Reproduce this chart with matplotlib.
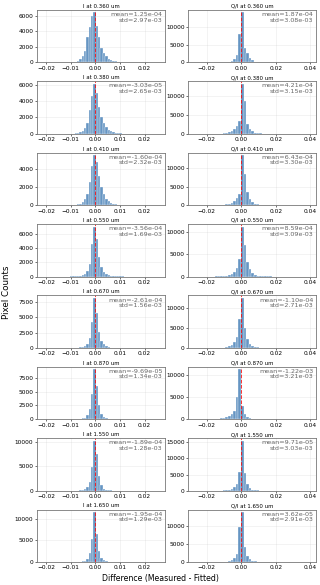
import numpy as np
import matplotlib
matplotlib.use("Agg")
import matplotlib.pyplot as plt

wavelengths = ["0.360", "0.380", "0.410", "0.550", "0.670", "0.870", "1.550", "1.650"]

# I residual histograms: counts for bins k = -10 .. 14
i_counts = [
    [30, 50, 100, 200, 400, 780, 1400, 3200, 4500, 6000, 6400,
     4700, 3200, 1900, 1200, 800, 480, 300, 200, 120, 80, 50, 30, 20, 12],
    [10, 25, 50, 100, 200, 380, 700, 1300, 2900, 4600, 6100,
     5000, 3300, 2100, 1300, 800, 500, 320, 200, 130, 80, 50, 30, 20, 12],
    [10, 20, 40, 90, 180, 350, 650, 1200, 2600, 4300, 5500,
     4800, 3200, 2000, 1200, 700, 420, 250, 150, 90, 55, 35, 20, 12, 8],
    [5, 10, 20, 45, 90, 180, 350, 750, 1800, 4500, 7000,
     5200, 2700, 1400, 700, 360, 190, 100, 55, 30, 18, 10, 6, 4, 2],
    [4, 8, 16, 35, 70, 150, 320, 700, 1700, 4300, 8200,
     5800, 2600, 1200, 560, 270, 130, 65, 35, 20, 12, 7, 4, 3, 2],
    [3, 6, 14, 30, 65, 140, 300, 700, 1800, 4600, 9000,
     6000, 2500, 1000, 430, 190, 90, 45, 22, 12, 7, 4, 3, 2, 1],
    [2, 4, 10, 22, 50, 120, 290, 700, 1800, 4800, 10300,
     7500, 3000, 1100, 420, 170, 75, 35, 18, 9, 5, 3, 2, 1, 1],
    [2, 4, 10, 22, 50, 130, 310, 760, 2000, 5400, 11500,
     6400, 2600, 1000, 380, 150, 65, 30, 15, 8, 5, 3, 2, 1, 1],
]

# Q/I residual histograms: counts for bins k = -12 .. 12
q_counts = [
    [2, 4, 8, 15, 30, 60, 110, 200, 450, 1000, 2200, 8000, 14200,
     4000, 2600, 1200, 550, 260, 130, 70, 40, 22, 12, 7, 4],
    [3, 6, 12, 25, 50, 100, 190, 350, 650, 1200, 2200, 3300, 13300,
     8700, 2600, 1300, 650, 320, 160, 80, 40, 20, 10, 5, 3],
    [3, 6, 12, 25, 50, 100, 190, 350, 650, 1200, 2000, 3000, 13500,
     8300, 3500, 1700, 800, 400, 200, 100, 50, 25, 12, 6, 3],
    [3, 5, 10, 20, 40, 80, 160, 300, 600, 1100, 2000, 4000, 11200,
     7000, 3300, 1700, 900, 450, 230, 120, 60, 30, 15, 8, 4],
    [3, 6, 12, 25, 50, 100, 200, 400, 800, 1500, 2800, 7200, 12600,
     5000, 2200, 1000, 450, 220, 110, 55, 28, 14, 7, 4, 2],
    [20, 40, 70, 120, 200, 320, 500, 750, 1100, 1800, 5000, 11200, 3000,
     1200, 500, 220, 100, 50, 25, 12, 6, 3, 2, 1, 1],
    [2, 4, 8, 15, 30, 60, 120, 250, 500, 1000, 2100, 5800, 15500,
     5600, 2000, 800, 350, 160, 80, 40, 20, 10, 5, 3, 2],
    [2, 4, 8, 15, 30, 60, 120, 250, 500, 1000, 2200, 9800, 14000,
     4300, 1800, 800, 380, 180, 90, 45, 22, 11, 6, 3, 2],
]

i_means = ["1.25e-04", "-3.03e-05", "-1.60e-04", "-3.56e-04", "-2.61e-04", "-9.69e-05", "-1.89e-04", "-1.95e-04"]
i_stds = ["2.97e-03", "2.65e-03", "2.32e-03", "1.69e-03", "1.56e-03", "1.34e-03", "1.28e-03", "1.29e-03"]
q_means = ["1.87e-04", "4.21e-04", "6.43e-04", "8.59e-04", "-1.10e-04", "-1.22e-03", "9.71e-05", "3.62e-05"]
q_stds = ["3.08e-03", "3.15e-03", "3.30e-03", "3.09e-03", "2.71e-03", "3.21e-03", "3.03e-03", "2.91e-03"]

# bin geometry
I_WIDTH, I_START = 0.00095, -0.00075 - 10 * 0.00095
Q_WIDTH, Q_START = 0.0015, -0.0001 - 12 * 0.0015
I_XLIM = (-0.0237, 0.0283)
Q_XLIM = (-0.0307, 0.0433)

fig, axes = plt.subplots(8, 2, figsize=(3.2, 5.85), dpi=100)
fig.subplots_adjust(left=0.1156, right=0.9875, top=0.983, bottom=0.0393,
                    hspace=0.36, wspace=0.18)


def draw_panel(ax, counts, width, start, xlim, title, mean, std):
    edges = start + width * np.arange(len(counts) + 1)
    centers = 0.5 * (edges[:-1] + edges[1:])
    ax.hist(centers, bins=edges, weights=counts, color="#3f7bb5", alpha=0.8,
            edgecolor="white", linewidth=0.3)
    ax.axvline(0, color="red", linestyle="--", linewidth=0.7, alpha=0.8)
    ax.set_xlim(*xlim)
    ax.set_title(title, fontsize=3.9, pad=1.5)
    ax.text(0.98, 0.96, f"mean={mean}\nstd={std}", transform=ax.transAxes,
            ha="right", va="top", fontsize=4.6, color="#666666", linespacing=1.15)
    ax.grid(True, alpha=0.25, linewidth=0.4)
    ax.set_axisbelow(True)
    ax.tick_params(labelsize=4.2, length=1.5, width=0.4, pad=1)
    for sp in ax.spines.values():
        sp.set_color("#777777")
        sp.set_linewidth(0.6)


for row, wl in enumerate(wavelengths):
    draw_panel(axes[row, 0], i_counts[row], I_WIDTH, I_START, I_XLIM,
               f"I at {wl} um", i_means[row], i_stds[row])
    draw_panel(axes[row, 1], q_counts[row], Q_WIDTH, Q_START, Q_XLIM,
               f"Q/I at {wl} um", q_means[row], q_stds[row])
    axes[row, 0].set_xticks([-0.02, -0.01, 0.0, 0.01, 0.02])
    axes[row, 1].set_xticks([-0.02, 0.0, 0.02, 0.04])

fig.text(0.02, 0.5, "Pixel Counts", rotation=90, ha="center", va="center", fontsize=6.3)
fig.text(0.5, 0.011, "Difference (Measured - Fitted)", ha="center", va="center", fontsize=5.6)

fig.savefig("out.png", dpi=100)
